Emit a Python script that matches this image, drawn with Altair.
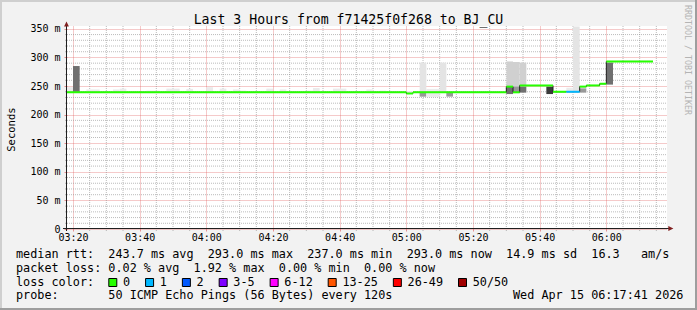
import altair as alt
import pandas as pd

FONT = "DejaVu Sans Mono"
NB = "\u00a0"

# ---------------- text ----------------
title_text = "Last 3 Hours from f71425f0f268 to BJ_CU"
y_title = "Seconds"
watermark = "RRDTOOL / TOBI OETIKER"
stats_rtt = "median rtt:  243.7 ms avg  293.0 ms max  237.0 ms min  293.0 ms now  14.9 ms sd  16.3   am/s"
stats_loss = "packet loss: 0.02 % avg  1.92 % max  0.00 % min  0.00 % now"
loss_head = "loss color:"
probe_text = "probe:       50 ICMP Echo Pings (56 Bytes) every 120s"
stamp = "Wed Apr 15 06:17:41 2026"

# ---------------- axes ----------------
x_tick_labels = ["03:20", "03:40", "04:00", "04:20", "04:40", "05:00", "05:20", "05:40", "06:00"]
y_tick_values = [0, 50, 100, 150, 200, 250, 300, 350]

# ---------------- median rtt (ms), per run of 2-minute steps ----------------
med_start = ["03:18", "05:00", "05:02", "05:30", "05:32", "05:34", "05:44", "05:48", "05:52", "05:54", "05:58", "06:00"]
med_end = ["05:00", "05:02", "05:30", "05:32", "05:34", "05:44", "05:48", "05:52", "05:54", "05:58", "06:00", "06:14"]
med_ms = [239, 237, 239, 249, 239, 251, 240, 240, 249, 251, 254, 293]
med_loss = ["0", "0", "0", "0", "0", "0", "0", "1", "0", "0", "0", "0"]

# ---------------- smoke (ping spread, ms) ----------------
smoke_start = ["03:18", "03:20", "03:24", "03:32", "03:34", "03:42", "03:48", "03:54", "04:00", "04:04",
               "04:08", "04:10", "04:18", "04:22", "04:30", "04:32", "04:38", "04:48", "04:52", "05:00",
               "05:04", "05:04", "05:06", "05:10", "05:12", "05:30", "05:30", "05:32", "05:32", "05:34",
               "05:34", "05:42", "05:48", "05:50", "05:52", "06:00"]
smoke_end = ["03:20", "03:22", "03:28", "03:34", "03:36", "03:46", "03:52", "03:56", "04:02", "04:06",
             "04:10", "04:12", "04:20", "04:24", "04:32", "04:34", "04:42", "04:50", "04:54", "05:02",
             "05:06", "05:06", "05:10", "05:12", "05:14", "05:32", "05:32", "05:34", "05:34", "05:36",
             "05:36", "05:44", "05:50", "05:52", "05:54", "06:02"]
smoke_lo = [239, 240, 239, 239, 239, 239, 239, 239, 239, 239,
            239, 239, 239, 239, 239, 239, 239, 239, 239, 237,
            231.5, 231.5, 231, 239, 231.5, 236, 236, 239, 239, 249,
            238.5, 236, 240, 240, 238.5, 252.5]
smoke_hi = [248, 285, 244, 244, 245.5, 242, 245.5, 245, 248, 245.5,
            244, 242, 245.5, 244, 242, 246.5, 245.5, 244, 242, 241,
            291, 238, 245, 291, 238, 293, 249, 292, 249, 291,
            249, 249, 247, 354, 246, 291]
smoke_shade = ["faint", "dark", "faint", "faint", "faint", "faint", "faint", "faint", "faint", "faint",
               "faint", "faint", "faint", "faint", "faint", "faint", "faint", "faint", "faint", "faint",
               "light", "mid", "faint", "light", "mid", "light2", "dark", "light2", "mid", "light2",
               "dark", "darkest", "faint", "light", "mid", "dark"]

shade_names = ["faint", "light", "light2", "mid", "dark", "darkest"]
shade_colors = ["#ebebeb", "#e4e4e4", "#d0d0d0", "#999999", "#707070", "#3a3a3a"]

loss_labels = ["0", "1", "2", "3-5", "6-12", "13-25", "26-49", "50/50"]
loss_colors = ["#26ff00", "#00b8ff", "#0059ff", "#7e00ff", "#ff00ff", "#ff5500", "#ff0000", "#a10000"]

# ---------------- helpers ----------------
def to_min(s):
    h, m = s.split(":")
    return int(h) * 60 + int(m)

W, H = 600, 203
PL, PT = 67, 26

xs = alt.Scale(domain=[198.2, 378.2], nice=False, zero=False)
ys = alt.Scale(domain=[0, 355], nice=False, zero=False)

MAJ = "#de4f4f"
x_axis = alt.Axis(values=[to_min(s) for s in x_tick_labels],
                  labelExpr="(datum.value < 600 ? '0' : '') + floor(datum.value / 60) + ':' + (datum.value % 60 < 10 ? '0' : '') + (datum.value % 60)",
                  grid=True, gridColor=MAJ, gridOpacity=0.6, gridDash=[1, 1], gridWidth=1,
                  domain=False, ticks=True, tickSize=2, tickColor=MAJ, tickOpacity=0.6,
                  labelFont=FONT, labelFontSize=10, labelColor="#000000", labelPadding=1,
                  labelOverlap=False, labelFlush=False, labelBound=False, title=None)
y_axis = alt.Axis(values=y_tick_values,
                  labelExpr="datum.value == 0 ? '0' : datum.value + ' m'",
                  grid=True, gridColor=MAJ, gridOpacity=0.6, gridDash=[1, 1], gridWidth=1,
                  domain=False, ticks=True, tickSize=3, tickColor=MAJ, tickOpacity=0.6,
                  labelFont=FONT, labelFontSize=10, labelColor="#000000", labelPadding=4,
                  labelOverlap=False, labelFlush=False, labelBound=False, title=None)


def X(f):
    return alt.X(f, type="quantitative", scale=xs, axis=x_axis)


def Y(f):
    return alt.Y(f, type="quantitative", scale=ys, axis=y_axis)


one = pd.DataFrame({"k": [0]})


def text_layer(s, x, y, size, align="left", baseline="alphabetic", angle=0, color="#000000"):
    return alt.Chart(pd.DataFrame({"s": [s.replace(" ", NB)]})).mark_text(
        align=align, baseline=baseline, angle=angle, font=FONT, fontSize=size, color=color
    ).encode(x=alt.value(x), y=alt.value(y), text="s:N")


def hline(x1, x2, y, color, w=1):
    return alt.Chart(one).mark_rule(color=color, strokeWidth=w).encode(
        x=alt.value(x1), x2=alt.value(x2), y=alt.value(y))


def vline(x, y1, y2, color, w=1):
    return alt.Chart(one).mark_rule(color=color, strokeWidth=w).encode(
        x=alt.value(x), y=alt.value(y1), y2=alt.value(y2))


# ---------------- data frames ----------------
vgrid = pd.DataFrame({"t": [m for m in range(205, 376, 5) if m % 20 != 0]})
hgrid = pd.DataFrame({"v": [v for v in range(10, 351, 10) if v % 50 != 0]})

smoke = pd.DataFrame({
    "t0": [to_min(s) for s in smoke_start],
    "t1": [to_min(s) for s in smoke_end],
    "lo": smoke_lo, "hi": smoke_hi, "shade": smoke_shade,
})
med = pd.DataFrame({
    "t0": [to_min(s) for s in med_start],
    "t1": [to_min(s) for s in med_end],
    "ms": med_ms, "loss": med_loss,
})
med_pts = pd.DataFrame({
    "t": [to_min(s) for s in med_start] + [to_min(med_end[-1])],
    "ms": med_ms + [med_ms[-1]],
})

layers = []
GRID = "#8f8f8f"
layers.append(alt.Chart(vgrid).mark_rule(color=GRID, opacity=0.6, strokeDash=[1, 1], strokeWidth=1).encode(
    x=X("t"), y=alt.value(0), y2=alt.value(H + 2)))
layers.append(alt.Chart(hgrid).mark_rule(color=GRID, opacity=0.6, strokeDash=[1, 1], strokeWidth=1).encode(
    y=Y("v"), x=alt.value(-2), x2=alt.value(W)))

layers.append(alt.Chart(smoke).mark_rect(clip=True).encode(
    x=X("t0"), x2="t1", y=Y("lo"), y2="hi",
    fill=alt.Fill("shade:N", scale=alt.Scale(domain=shade_names, range=shade_colors), legend=None)))

layers.append(alt.Chart(med_pts).mark_line(interpolate="step-after", color="#202020", strokeWidth=1, clip=True).encode(
    x=X("t"), y=Y("ms")))
layers.append(alt.Chart(med).mark_rule(strokeWidth=2, clip=True).encode(
    x=X("t0"), x2="t1", y=Y("ms"),
    stroke=alt.Stroke("loss:N", scale=alt.Scale(domain=loss_labels, range=loss_colors), legend=None)))

# axis lines and arrows
AX = "#1f1f1f"
AR = "#801f1f"
layers.append(vline(-0.5, -1, H + 2, AX))
layers.append(hline(-4, 602, H - 0.5, AX))
layers.append(alt.Chart(one).mark_point(shape="M-0.8,1L0.8,1L0,-0.7Z", size=36, filled=True, opacity=1, color=AR).encode(
    x=alt.value(-0.5), y=alt.value(-2.5)))
layers.append(alt.Chart(one).mark_point(shape="M-1,-0.8L-1,0.8L0.7,0Z", size=36, filled=True, opacity=1, color=AR).encode(
    x=alt.value(604.3), y=alt.value(H - 0.5)))

# texts
layers.append(text_layer(title_text, 348.5 - PL, 24 - PT, 13.2, align="center"))
layers.append(text_layer(y_title, 15 - PL, 129.6 - PT, 10.5, align="center", angle=270))
layers.append(text_layer(watermark, 685 - PL, 60 - PT, 8.3, align="center", angle=90, color="#b4b4b4"))
LX = 16 - PL
layers.append(text_layer(stats_rtt, LX, 258 - PT, 11.8))
layers.append(text_layer(stats_loss, LX, 272 - PT, 11.8))
layers.append(text_layer(loss_head, LX, 285.6 - PT, 11.8))
layers.append(text_layer(probe_text, LX, 299.3 - PT, 11.8))
layers.append(text_layer(stamp, 513 - PL, 299.3 - PT, 11.8))

bx = 108.3
for lab, col in zip(loss_labels, loss_colors):
    layers.append(alt.Chart(one).mark_rect(fill=col, stroke="#000000", strokeWidth=1).encode(
        x=alt.value(bx - PL + 0.5), x2=alt.value(bx - PL + 8.5),
        y=alt.value(278.5 - PT), y2=alt.value(286.5 - PT)))
    layers.append(text_layer(lab, bx + 14.7 - PL, 285.6 - PT, 11.8))
    bx += 14.7 + 7.09 * len(lab) + 15

# frame shading
layers.append(hline(-PL, 697 - PL, 1 - PT, "#cfcfcf", 2))
layers.append(vline(1 - PL, -PT, 310 - PT, "#cfcfcf", 2))
layers.append(hline(-PL, 697 - PL, 309 - PT, "#9e9e9e", 2))
layers.append(vline(696 - PL, -PT, 310 - PT, "#9e9e9e", 2))

chart = alt.layer(*layers).properties(
    width=W, height=H,
    autosize=alt.AutoSizeParams(type="none"),
    padding={"left": PL, "top": PT, "right": 697 - PL - W, "bottom": 310 - PT - H},
    background="#f2f2f2",
).configure_view(stroke=None, fill="white")

chart.save("out.html", embed_options={"renderer": "svg", "actions": False})
